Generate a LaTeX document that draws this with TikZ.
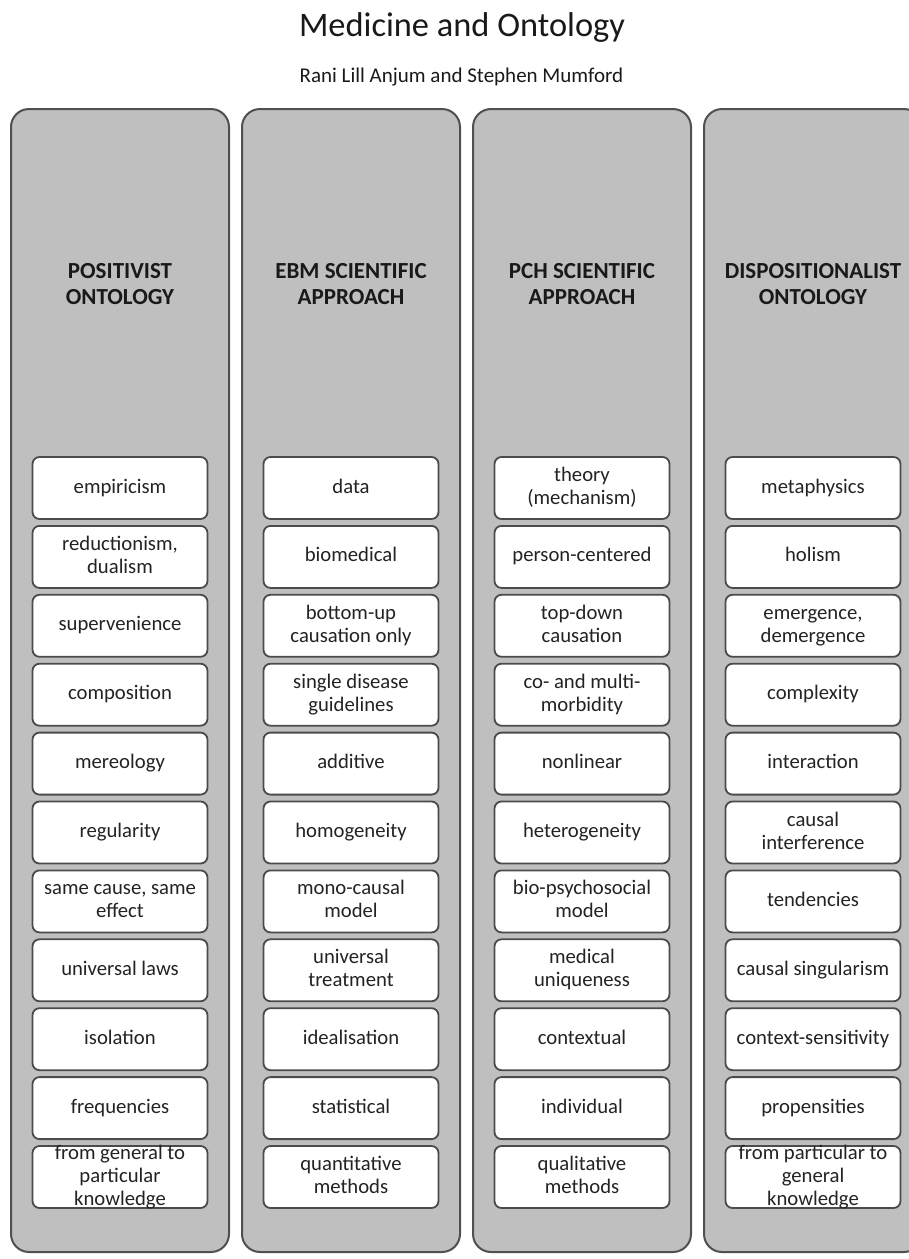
\documentclass[tikz,border=0pt]{standalone}
\usepackage{fontspec}
\setmainfont{Carlito}
\definecolor{colfill}{RGB}{191,191,191}
\definecolor{colline}{RGB}{80,80,80}
\definecolor{boxline}{RGB}{75,75,75}
\definecolor{txt}{RGB}{35,35,35}
\tikzset{
  column/.style={draw=colline, line width=2pt, fill=colfill, rounded corners=18pt},
  heading/.style={align=center, text=black!90, font=\fontsize{23}{26}\selectfont\bfseries, inner sep=0pt},
  itembox/.style={draw=boxline, line width=1.8pt, fill=white, rounded corners=7pt, minimum width=175pt, minimum height=62pt, inner sep=0pt},
  itemtext/.style={align=center, text=txt, font=\fontsize{20.7}{23}\selectfont, inner sep=0pt},
}
\newcommand{\myitem}[3]{%
  \node[itembox] (b#1-#2) at ({120+231*(#1-1)},{488+68.9*(#2-1)}) {};
  \node[itemtext] (t#1-#2) at (b#1-#2) {\rule{0pt}{15pt}#3\rule[-5pt]{0pt}{5pt}};}
\begin{document}
\begin{tikzpicture}[x=1pt,y=-1pt]
\useasboundingbox (0,0) rectangle (909,1259);
\clip (0,0) rectangle (909,1259);
\node[anchor=base, font=\fontsize{34.4}{40}\selectfont, text=black!90, inner sep=0pt] (title) at (462,36) {Medicine and Ontology};
\node[anchor=base, font=\fontsize{21}{25}\selectfont, text=black!90, inner sep=0pt] (subtitle) at (461.5,82) {Rani Lill Anjum and Stephen Mumford};
% columns
\foreach \i in {1,2,3,4} {
  \draw[column] ({11+231*(\i-1)},109) rectangle ({229+231*(\i-1)},1252);
}
\node[heading] (h1) at (120,284) {POSITIVIST\\ONTOLOGY};
\node[heading] (h2) at (351,284) {EBM SCIENTIFIC\\APPROACH};
\node[heading] (h3) at (582,284) {PCH SCIENTIFIC\\APPROACH};
\node[heading] (h4) at (813,284) {DISPOSITIONALIST\\ONTOLOGY};
% column 1
\myitem{1}{1}{empiricism}
\myitem{1}{2}{reductionism,\\dualism}
\myitem{1}{3}{supervenience}
\myitem{1}{4}{composition}
\myitem{1}{5}{mereology}
\myitem{1}{6}{regularity}
\myitem{1}{7}{same cause, same\\effect}
\myitem{1}{8}{universal laws}
\myitem{1}{9}{isolation}
\myitem{1}{10}{frequencies}
\myitem{1}{11}{from general to\\particular\\knowledge}
% column 2
\myitem{2}{1}{data}
\myitem{2}{2}{biomedical}
\myitem{2}{3}{bottom-up\\causation only}
\myitem{2}{4}{single disease\\guidelines}
\myitem{2}{5}{additive}
\myitem{2}{6}{homogeneity}
\myitem{2}{7}{mono-causal\\model}
\myitem{2}{8}{universal\\treatment}
\myitem{2}{9}{idealisation}
\myitem{2}{10}{statistical}
\myitem{2}{11}{quantitative\\methods}
% column 3
\myitem{3}{1}{theory\\(mechanism)}
\myitem{3}{2}{person-centered}
\myitem{3}{3}{top-down\\causation}
\myitem{3}{4}{co- and multi-\\morbidity}
\myitem{3}{5}{nonlinear}
\myitem{3}{6}{heterogeneity}
\myitem{3}{7}{bio-psychosocial\\model}
\myitem{3}{8}{medical\\uniqueness}
\myitem{3}{9}{contextual}
\myitem{3}{10}{individual}
\myitem{3}{11}{qualitative\\methods}
% column 4
\myitem{4}{1}{metaphysics}
\myitem{4}{2}{holism}
\myitem{4}{3}{emergence,\\demergence}
\myitem{4}{4}{complexity}
\myitem{4}{5}{interaction}
\myitem{4}{6}{causal\\interference}
\myitem{4}{7}{tendencies}
\myitem{4}{8}{causal singularism}
\myitem{4}{9}{context-sensitivity}
\myitem{4}{10}{propensities}
\myitem{4}{11}{from particular to\\general\\knowledge}
\end{tikzpicture}
\end{document}
